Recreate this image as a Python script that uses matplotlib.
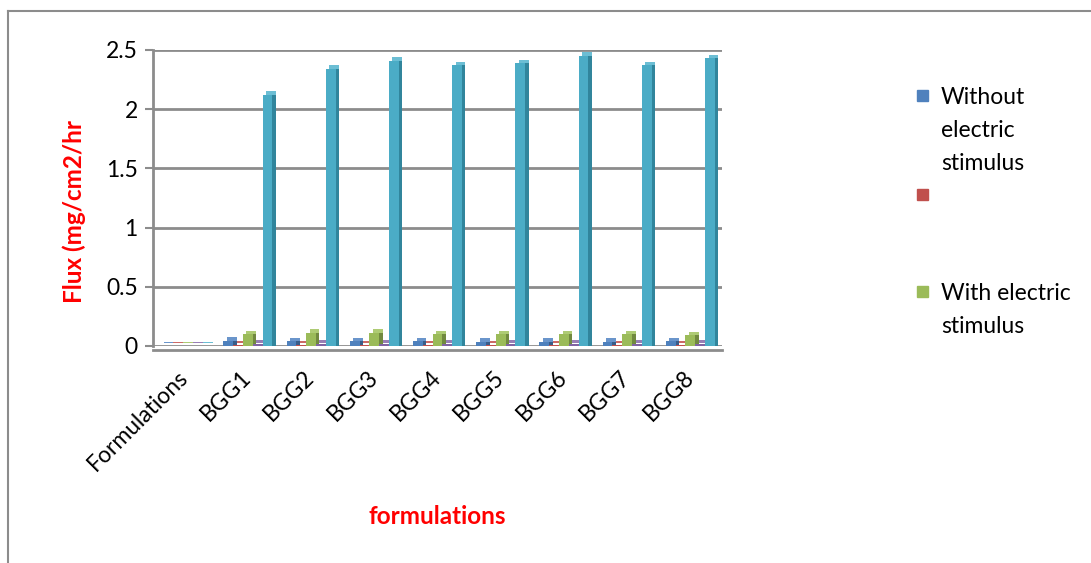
import matplotlib
matplotlib.use("Agg")
import matplotlib.pyplot as plt
from matplotlib.transforms import ScaledTranslation
from matplotlib.patches import Rectangle
from matplotlib.lines import Line2D
import numpy as np

plt.rcParams['font.family'] = ['Lato', 'DejaVu Sans']

# Data
categories = ["Formulations", "BGG1", "BGG2", "BGG3", "BGG4", "BGG5", "BGG6", "BGG7", "BGG8"]
without_stimulus = [0.004, 0.045, 0.040, 0.040, 0.040, 0.035, 0.035, 0.035, 0.040]
series_two = [0.004, 0.012, 0.012, 0.012, 0.012, 0.012, 0.012, 0.012, 0.012]
with_stimulus = [0.004, 0.10, 0.11, 0.11, 0.10, 0.10, 0.10, 0.10, 0.09]
series_four = [0.004, 0.02, 0.02, 0.02, 0.02, 0.02, 0.02, 0.02, 0.02]
series_five = [0.004, 2.12, 2.34, 2.41, 2.37, 2.39, 2.45, 2.37, 2.43]

legend_labels = ["Without\nelectric\nstimulus", "", "With electric\nstimulus"]
y_ticks = [0, 0.5, 1, 1.5, 2, 2.5]
y_tick_labels = ["0", "0.5", "1", "1.5", "2", "2.5"]

series = [without_stimulus, series_two, with_stimulus, series_four, series_five]
front_colors = ["#4F81BD", "#C0504D", "#9BBB59", "#8064A2", "#4BACC6"]
top_colors = ["#6A95CB", "#CC6A67", "#AECB74", "#987FB5", "#6CBED4"]
side_colors = ["#385D8A", "#8C3836", "#71893F", "#5C4776", "#31859C"]

W, H = 1091, 563
fig = plt.figure(figsize=(W / 100, H / 100), dpi=100)
ax = fig.add_axes([153 / W, (H - 346) / H, (722 - 153) / W, 296 / H])

# Axis frame first (moving a spine resets the ticks)
for side in ['top', 'right']:
    ax.spines[side].set_visible(False)
ax.spines['left'].set_color('#8C8C8C')
ax.spines['left'].set_linewidth(2)
ax.spines['bottom'].set_color('#8C8C8C')
ax.spines['bottom'].set_linewidth(2)
ax.spines['bottom'].set_position(('outward', 3))

x = np.arange(len(categories))
width = 0.155
dpx = 3.5
shift_up = ScaledTranslation(dpx / 100, dpx / 100, fig.dpi_scale_trans)
shift_right = ScaledTranslation(dpx / 100, 0, fig.dpi_scale_trans)

for i, (vals, fc, tc, sc) in enumerate(zip(series, front_colors, top_colors, side_colors)):
    pos = x + (i - 2) * width
    z = 3 + 3 * i
    # top face (shifted back in depth), side face, then front face
    ax.bar(pos, vals, width, color=tc, linewidth=0, zorder=z,
           transform=ax.transData + shift_up)
    ax.bar(pos, vals, width, color=sc, linewidth=0, zorder=z + 1,
           transform=ax.transData + shift_right)
    ax.bar(pos, vals, width, color=fc, linewidth=0, zorder=z + 2)

ax.set_xlim(-0.5, len(categories) - 0.5)
ax.set_ylim(0, 2.5)
ax.tick_params(axis='x', length=0, pad=17)
ax.tick_params(axis='y', length=6, width=1.5, color='#8C8C8C', pad=5)
ax.set_yticks(y_ticks)
ax.set_yticklabels(y_tick_labels, fontsize=16.5)
ax.set_xticks(x)
ax.set_xticklabels(categories, fontsize=16.5, rotation=45, rotation_mode='anchor',
                   ha='right', va='center')

ax.set_axisbelow(True)
ax.yaxis.grid(True, color='#8C8C8C', linewidth=2)

ax.set_ylabel("Flux (mg/cm2/hr", color='#FF0000', fontweight='bold', fontsize=17.5)
ax.yaxis.set_label_coords(-0.118, 0.453)
fig.text(437 / W, 1 - 517 / H, "formulations", color='#FF0000', fontweight='bold',
         fontsize=17.5, ha='center', va='center')

# Legend
legend_rows = [(96, 0), (195, 1), (292, 2)]
for y_px, idx in legend_rows:
    fig.add_artist(Rectangle((917 / W, 1 - (y_px + 5) / H), 11 / W, 11 / H,
                             transform=fig.transFigure, color=front_colors[idx]))
    if legend_labels[idx]:
        fig.text(941 / W, 1 - (y_px - 9) / H, legend_labels[idx], fontsize=16.5,
                 va='top', ha='left', linespacing=1.72,
                 transform=fig.transFigure)

# Chart border
fig.add_artist(Line2D([8 / W, 1], [1 - 11 / H, 1 - 11 / H], color='#8C8C8C', lw=1.5,
                      transform=fig.transFigure))
fig.add_artist(Line2D([8 / W, 8 / W], [1 - 11 / H, 0], color='#8C8C8C', lw=1.5,
                      transform=fig.transFigure))

fig.savefig("out.png", dpi=100)
